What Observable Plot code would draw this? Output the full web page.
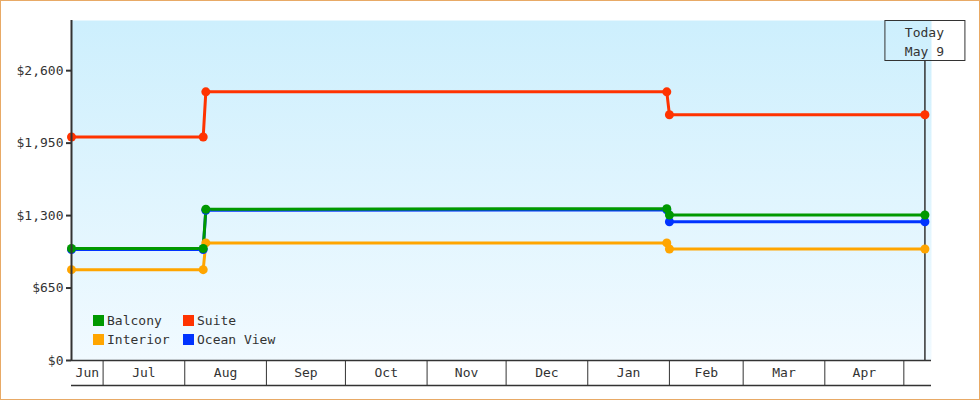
<!DOCTYPE html>
<html>
<head>
<meta charset="utf-8">
<script src="https://cdn.jsdelivr.net/npm/d3@7"></script>
<script src="https://cdn.jsdelivr.net/npm/@observablehq/plot@0.6"></script>
<style>
  html, body { margin: 0; padding: 0; background: #fff; }
  #chart svg { display: block; }
</style>
</head>
<body>
<div id="chart"></div>
<script>
// ---- data ----
const dates = ["2024-06-19", "2024-08-08", "2024-08-09", "2025-01-31", "2025-02-01", "2025-05-09"];
const interior  = [815, 815, 1055, 1055, 1000, 1000];
const oceanView = [995, 995, 1348, 1352, 1245, 1245];
const balcony   = [1005, 1005, 1357, 1362, 1305, 1305];
const suite     = [2005, 2005, 2410, 2410, 2205, 2205];
const seriesNames = ["Interior", "Ocean View", "Balcony", "Suite"];
const seriesValues = [interior, oceanView, balcony, suite];
const seriesColors = ["#ffa500", "#0033ff", "#009900", "#ff3300"];
const legendOrder = ["Balcony", "Suite", "Interior", "Ocean View"];
const yTicks = [0, 650, 1300, 1950, 2600];
const monthLabels = ["Jun", "Jul", "Aug", "Sep", "Oct", "Nov", "Dec", "Jan", "Feb", "Mar", "Apr"];
const todayLabel = ["Today", "May 9"];
const todayDate = "2025-05-09";
const xStart = "2024-06-19T00:00:00Z";
const xEnd = "2025-05-11T12:00:00Z";
const yMax = 3050;

// ---- build table ----
const parse = s => new Date(s.length > 10 ? s : s + "T00:00:00Z");
const rows = [];
seriesNames.forEach((name, si) => {
  dates.forEach((d, i) => rows.push({series: name, date: parse(d), price: seriesValues[si][i]}));
});
const x0 = parse(xStart), x1 = parse(xEnd);
const today = parse(todayDate);

// month separators & label positions
const monthStarts = d3.utcMonth.range(d3.utcMonth.ceil(x0), x1);
const monthMids = [];
{
  const bounds = [x0, ...monthStarts, x1];
  for (let i = 0; i < monthLabels.length; i++) {
    monthMids.push(new Date((bounds[i].getTime() + bounds[i + 1].getTime()) / 2));
  }
}
const midLabel = new Map(monthMids.map((d, i) => [d.getTime(), monthLabels[i]]));

const FONT = "DejaVu Sans Mono, monospace";
const INK = "#333333";

// gradient defs
function defsMark() {
  const g = d3.create("svg:defs");
  const lg = g.append("linearGradient").attr("id", "bggrad")
    .attr("x1", 0).attr("y1", 0).attr("x2", 0).attr("y2", 1);
  lg.append("stop").attr("offset", "0%").attr("stop-color", "#cdeffd");
  lg.append("stop").attr("offset", "100%").attr("stop-color", "#f1faff");
  return g.node();
}

// outer border
function borderMark(index, scales, values, dims) {
  return d3.create("svg:rect")
    .attr("x", 0.5).attr("y", 0.5)
    .attr("width", dims.width - 1).attr("height", dims.height - 1)
    .attr("fill", "none").attr("stroke", "#e8aa66").attr("stroke-width", 1)
    .node();
}

// legend inside plot, bottom-left
function legendMark(index, scales, values, dims) {
  const g = d3.create("svg:g").attr("font-family", FONT).attr("font-size", 13).attr("text-anchor", "start");
  const left = dims.marginLeft + 22;
  const top = dims.height - dims.marginBottom - 45;
  legendOrder.forEach((name, i) => {
    const col = i % 2, row = Math.floor(i / 2);
    const gx = left + col * 90, gy = top + row * 19;
    g.append("rect").attr("x", gx).attr("y", gy).attr("width", 11).attr("height", 11)
      .attr("fill", seriesColors[seriesNames.indexOf(name)]);
    g.append("text").attr("x", gx + 14).attr("y", gy + 10).attr("text-anchor", "start")
      .attr("fill", INK).text(name);
  });
  return g.node();
}

// "Today" box
function todayMark(index, scales, values, dims) {
  const cx = scales.x(today);
  const g = d3.create("svg:g").attr("font-family", FONT).attr("font-size", 13);
  g.append("rect").attr("x", cx - 40 + 0.5).attr("y", dims.marginTop + 0.5)
    .attr("width", 80).attr("height", 40).attr("fill", "none").attr("stroke", INK);
  todayLabel.forEach((t, i) => {
    g.append("text").attr("x", cx).attr("y", dims.marginTop + 17 + i * 19)
      .attr("text-anchor", "middle").attr("fill", INK).text(t);
  });
  return g.node();
}

const chart = Plot.plot({
  width: 980,
  height: 400,
  marginLeft: 71,
  marginRight: 49,
  marginTop: 20,
  marginBottom: 40,
  style: {fontFamily: FONT, fontSize: "13px", color: INK, background: "#fff"},
  x: {type: "utc", domain: [x0, x1]},
  y: {domain: [0, yMax]},
  color: {domain: seriesNames, range: seriesColors},
  marks: [
    defsMark,
    Plot.frame({fill: "url(#bggrad)", stroke: "none"}),
    Plot.axisY({ticks: yTicks, tickFormat: d => "$" + d3.format(",")(d), tickSize: 5, tickPadding: 3, strokeWidth: 2, fontSize: 13, label: null}),
    Plot.axisX({ticks: monthStarts, tickSize: 25, tickFormat: () => "", label: null}),
    Plot.axisX({ticks: monthMids, tickSize: 0, tickPadding: 7, tickFormat: d => midLabel.get(d.getTime()) ?? "", fontSize: 13, label: null}),
    Plot.ruleY([0], {stroke: INK, strokeWidth: 1.5}),
    Plot.ruleY([0], {stroke: INK, strokeWidth: 1.5, dy: 25}),
    Plot.ruleX([today], {stroke: INK, strokeWidth: 1.5, insetTop: 40}),
    Plot.line(rows, {x: "date", y: "price", z: "series", stroke: "series", strokeWidth: 3, curve: "linear"}),
    Plot.dot(rows, {x: "date", y: "price", fill: "series", r: 4.5, stroke: "none"}),
    Plot.ruleX([x0], {stroke: INK, strokeWidth: 2}),
    legendMark,
    todayMark,
    borderMark
  ]
});
document.getElementById("chart").append(chart);
</script>
</body>
</html>
